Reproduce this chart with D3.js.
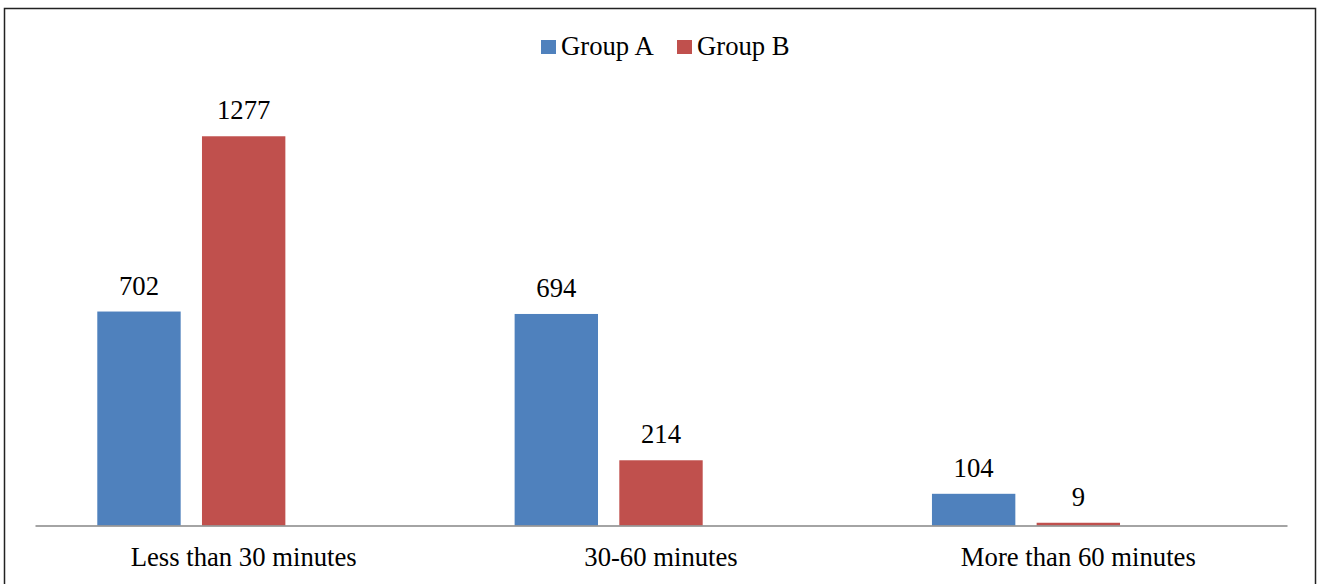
<!DOCTYPE html>
<html>
<head>
<meta charset="utf-8">
<script src="https://cdn.jsdelivr.net/npm/d3@7"></script>
<style>
  html, body { margin: 0; padding: 0; background: #fff; }
  svg { display: block; font-family: "Liberation Serif", "Times New Roman", serif; }
  svg text { font-family: "Liberation Serif", "Times New Roman", serif; }
</style>
</head>
<body>
<svg id="chart" width="1317" height="584"></svg>
<script>
const categories = ["Less than 30 minutes", "30-60 minutes", "More than 60 minutes"];
const seriesNames = ["Group A", "Group B"];
const groupA = [702, 694, 104];
const groupB = [1277, 214, 9];
const seriesColors = ["#4F81BD", "#C0504D"];
const slots = ["Group A", "Group B", "(empty)"]; // third series slot is empty in the original

const FS = 26.7;
const svg = d3.select("#chart");

// frame
svg.append("rect")
  .attr("x", 4.5).attr("y", 8.5)
  .attr("width", 1311).attr("height", 620)
  .attr("fill", "none").attr("stroke", "#222").attr("stroke-width", 1.5);

const plotLeft = 35, plotRight = 1287, baseY = 525.5;
const x0 = d3.scaleBand().domain(categories).range([plotLeft, plotRight]).padding(0);
const x1 = d3.scaleBand().domain(slots).range([0, x0.bandwidth()])
  .paddingInner(0.2035).paddingOuter(0.595);
const y = d3.scaleLinear().domain([0, 1400]).range([baseY, baseY - 1400 * 0.3048]);

const data = categories.map((c, i) => ({
  cat: c,
  values: [
    { key: seriesNames[0], value: groupA[i], color: seriesColors[0] },
    { key: seriesNames[1], value: groupB[i], color: seriesColors[1] }
  ]
}));

const g = svg.append("g");
const groups = g.selectAll("g.cat").data(data).join("g")
  .attr("class", "cat")
  .attr("transform", d => `translate(${x0(d.cat)},0)`);

groups.selectAll("rect").data(d => d.values).join("rect")
  .attr("x", d => x1(d.key))
  .attr("width", x1.bandwidth())
  .attr("y", d => y(d.value))
  .attr("height", d => baseY - y(d.value))
  .attr("fill", d => d.color);

groups.selectAll("text.val").data(d => d.values).join("text")
  .attr("class", "val")
  .attr("x", d => x1(d.key) + x1.bandwidth() / 2)
  .attr("y", d => y(d.value) - 17)
  .attr("text-anchor", "middle")
  .attr("font-size", FS)
  .attr("fill", "#000")
  .text(d => d.value);

// x axis
const xAxis = d3.axisBottom(x0).tickSize(0).tickPadding(0);
const ax = svg.append("g").attr("transform", `translate(0,${baseY})`).call(xAxis)
  .attr("font-family", null).attr("font-size", null);
ax.select(".domain").attr("stroke", "#868686").attr("stroke-width", 1.5);
ax.selectAll(".tick text")
  .attr("font-size", FS)
  .attr("fill", "#000")
  .attr("dy", null)
  .attr("y", 40.5);

// legend
const legendItems = [
  { name: seriesNames[0], color: seriesColors[0], x: 541 },
  { name: seriesNames[1], color: seriesColors[1], x: 677 }
];
const lg = svg.append("g");
legendItems.forEach(it => {
  lg.append("rect").attr("x", it.x).attr("y", 40).attr("width", 15).attr("height", 14).attr("fill", it.color);
  lg.append("text").attr("x", it.x + 20).attr("y", 54.5)
    .attr("font-size", FS).attr("fill", "#000").text(it.name);
});
</script>
</body>
</html>
